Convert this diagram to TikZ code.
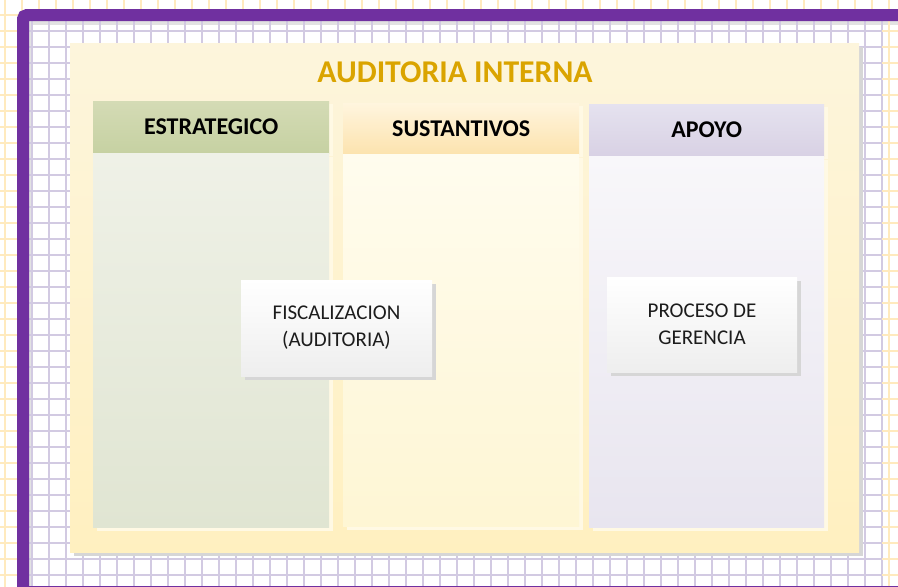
\documentclass[tikz,border=0pt]{standalone}
\usepackage{fontspec}
\setmainfont{Carlito}
\usepackage{tikz}
\usetikzlibrary{positioning,shadows}

\definecolor{framepurple}{RGB}{112,48,160}
\definecolor{gridlav}{RGB}{210,202,226}
\definecolor{gridyel}{RGB}{255,234,190}
\definecolor{innershade}{RGB}{226,226,226}
\definecolor{titlegold}{RGB}{218,164,0}
\definecolor{grayshade}{RGB}{214,214,214}
\definecolor{glowshade}{RGB}{255,249,228}
\definecolor{textgray}{RGB}{28,28,28}
\definecolor{paneltop}{RGB}{253,245,220}
\definecolor{panelbot}{RGB}{255,240,192}
\definecolor{esttop}{RGB}{212,219,181}
\definecolor{estbot}{RGB}{198,209,162}
\definecolor{estlight}{RGB}{239,241,231}
\definecolor{estdark}{RGB}{224,229,210}
\definecolor{sustop}{RGB}{255,245,222}
\definecolor{susbot}{RGB}{252,227,174}
\definecolor{suslight}{RGB}{255,252,238}
\definecolor{susdark}{RGB}{254,246,212}
\definecolor{apotop}{RGB}{229,226,239}
\definecolor{apobot}{RGB}{216,209,228}
\definecolor{apolight}{RGB}{248,247,250}
\definecolor{apodark}{RGB}{232,229,239}
\definecolor{boxbot}{RGB}{238,238,238}

\begin{document}
\begin{tikzpicture}[x=1pt,y=-1pt,
  yelline/.style={gridyel, line width=2pt},
  lavline/.style={gridlav, line width=2pt},
  panel/.style={anchor=north west, inner sep=0pt, minimum width=789pt, minimum height=509pt,
    top color=paneltop, bottom color=panelbot,
    drop shadow={shadow xshift=4pt, shadow yshift=-4pt, fill=grayshade, opacity=1}},
  colhead/.style={anchor=north west, inner sep=0pt, minimum height=52pt, text=black,
    font=\bfseries\fontsize{24}{28}\selectfont,
    drop shadow={shadow xshift=4pt, shadow yshift=-3pt, fill=glowshade, opacity=1}},
  colbody/.style={inner sep=0pt, drop shadow={shadow xshift=4pt, shadow yshift=-3pt, fill=glowshade, opacity=1}},
  procbox/.style={inner sep=0pt, minimum width=191pt, minimum height=96pt, align=center, text=textgray,
    font=\fontsize{21}{27}\selectfont, top color=white, bottom color=boxbot,
    drop shadow={shadow xshift=4pt, shadow yshift=-4pt, fill=grayshade, opacity=1}}
]
  \useasboundingbox (0,0) rectangle (898,587);
  \fill[white] (0,0) rectangle (898,587);

  % outer grid
  \foreach \gx in {5,22,...,889} \draw[yelline] (\gx,0) -- (\gx,587);
  \foreach \gy in {15,31,...,591} \draw[yelline] (0,\gy) -- (898,\gy);

  % inner page and grid
  \fill[white] (29,21) rectangle (898,587);
  \fill[innershade] (29,21) rectangle (898,25);
  \fill[innershade] (29,21) rectangle (33,587);
  \foreach \gx in {32,49,...,882} \draw[lavline] (\gx,21) -- (\gx,587);
  \foreach \gy in {31,47,...,591} \draw[lavline] (29,\gy) -- (882,\gy);
  \draw[yelline] (889,21) -- (889,587);
  \foreach \gy in {31,47,...,591} \draw[yelline] (882,\gy) -- (898,\gy);

  % frame
  \draw[framepurple, line width=12pt, rounded corners=4pt] (23,595) -- (23,15) -- (905,15);
  \draw[framepurple, line width=1.5pt] (29,586.5) -- (898,586.5);

  \node[panel] (panel) at (70,43) {};
  \node[text=titlegold, font=\bfseries\fontsize{31.7}{36}\selectfont] (title) at (455,72) {AUDITORIA INTERNA};

  \node[colhead, minimum width=236pt, top color=esttop, bottom color=estbot] (esthead) at (93,101) {ESTRATEGICO};
  \node[colbody, minimum width=236pt, minimum height=374pt, top color=estlight, bottom color=estdark] (estbody) [below=0pt of esthead] {};

  \node[colhead, minimum width=236pt, minimum height=51pt, top color=sustop, bottom color=susbot] (sushead) at (343,103) {SUSTANTIVOS};
  \node[colbody, minimum width=236pt, minimum height=372pt, top color=suslight, bottom color=susdark] (susbody) [below=0pt of sushead] {};

  \node[colhead, minimum width=235pt, top color=apotop, bottom color=apobot] (apohead) at (589,104) {APOYO};
  \node[colbody, minimum width=235pt, minimum height=371pt, top color=apolight, bottom color=apodark] (apobody) [below=0pt of apohead] {};

  \node[procbox] (fisc) at (336.5,328) {FISCALIZACION\\(AUDITORIA)};
  \node[procbox, minimum width=190pt, minimum height=95pt] (geren) at (702,324.5) {PROCESO DE\\GERENCIA};

\end{tikzpicture}
\end{document}
